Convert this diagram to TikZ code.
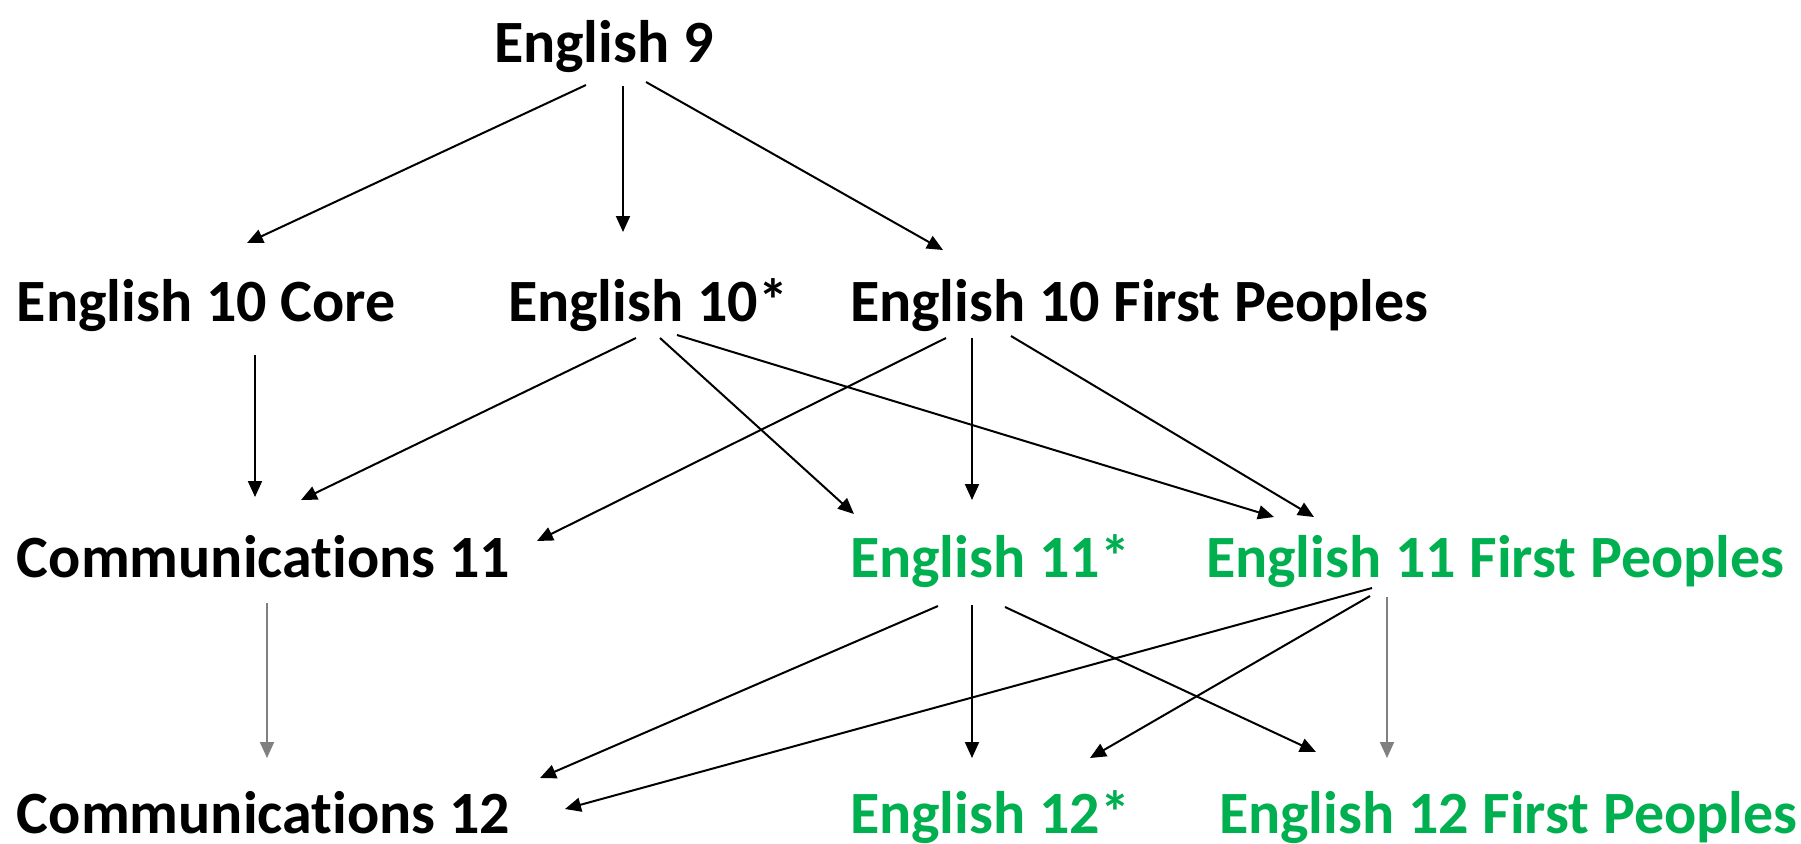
\documentclass[tikz,border=0pt]{standalone}
\usepackage{fontspec}
\setmainfont{Carlito}[Ligatures=NoCommon]
\usetikzlibrary{arrows.meta,calc}
\definecolor{offgreen}{HTML}{00B050}
\begin{document}
\begin{tikzpicture}[x=0.5pt,y=-0.5pt,
  lbl/.style={anchor=base west,inner sep=0pt,outer sep=0pt,font=\fontsize{30}{36}\selectfont\bfseries},
  grn/.style={lbl,text=offgreen},
  arr/.style={line width=1pt,-{Triangle[length=8pt,width=7pt]}},
  garr/.style={arr,draw=black!50,fill=black!50}]
\fill[white] (0,0) rectangle (1801,843);
\useasboundingbox (0,0) rectangle (1801,843);
% nodes
\node[lbl] (e9)    at (494,62)  {English 9};
\node[lbl] (e10c)  at (17,321)  {English 10 Core};
\node[lbl] (e10s)  at (508,321) {English 10*};
\node[lbl] (e10fp) at (850,321) {English 10 First Peoples};
\node[lbl] (c11)   at (17,577)  {Communications 11};
\node[grn] (e11s)  at (850,577) {English 11*};
\node[grn] (e11fp) at (1206,577) {English 11 First Peoples};
\node[lbl] (c12)   at (17,833)  {Communications 12};
\node[grn] (e12s)  at (850,833) {English 12*};
\node[grn] (e12fp) at (1219,833) {English 12 First Peoples};
% connectors
\draw[arr] ($(e9.base west)+(92,23)$) -- ($(e10c.base west)+(230,-78)$);
\draw[arr] ($(e9.base west)+(129,24)$) -- ($(e10s.base west)+(115,-89)$);
\draw[arr] ($(e9.base west)+(152,20)$) -- ($(e10fp.base west)+(93,-71)$);
\draw[arr] ($(e10c.base west)+(238,34)$) -- ($(c11.base west)+(238,-80)$);
\draw[arr] ($(e10s.base west)+(128,17)$) -- ($(c11.base west)+(284,-77)$);
\draw[arr] ($(e10s.base west)+(152,17)$) -- ($(e11s.base west)+(4,-63)$);
\draw[arr] ($(e10s.base west)+(169,14)$) -- ($(e11fp.base west)+(68,-60)$);
\draw[arr] ($(e10fp.base west)+(96,17)$) -- ($(c11.base west)+(520,-36)$);
\draw[arr] ($(e10fp.base west)+(122,17)$) -- ($(e11s.base west)+(122,-77)$);
\draw[arr] ($(e10fp.base west)+(161,15)$) -- ($(e11fp.base west)+(108,-60)$);
\draw[garr] ($(c11.base west)+(250,26)$) -- ($(c12.base west)+(250,-75)$);
\draw[arr] ($(e11s.base west)+(88,29)$) -- ($(c12.base west)+(523,-55)$);
\draw[arr] ($(e11s.base west)+(122,28)$) -- ($(e12s.base west)+(122,-75)$);
\draw[arr] ($(e11s.base west)+(155,30)$) -- ($(e12fp.base west)+(97,-81)$);
\draw[arr] ($(e11fp.base west)+(166,11)$) -- ($(c12.base west)+(548,-24)$);
\draw[arr] ($(e11fp.base west)+(164,19)$) -- ($(e12s.base west)+(240,-75)$);
\draw[garr] ($(e11fp.base west)+(181,20)$) -- ($(e12fp.base west)+(168,-75)$);
\end{tikzpicture}
\end{document}
